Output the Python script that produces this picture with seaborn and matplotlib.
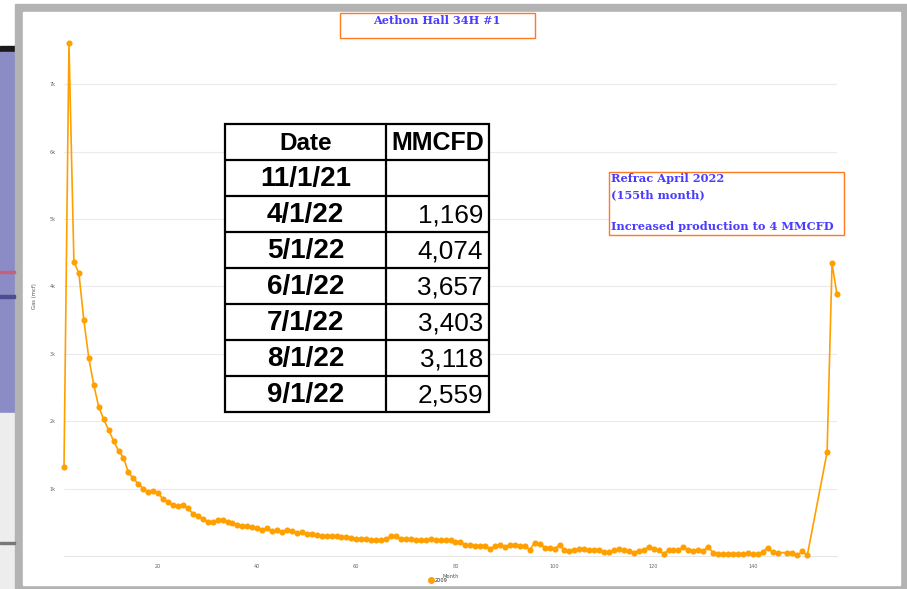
import pandas as pd
import seaborn as sns
import matplotlib.pyplot as plt
from matplotlib.patches import Rectangle
from matplotlib.lines import Line2D

# production history (month number -> gas, mcf)
months = list(range(1, 146)) + list(range(147, 152)) + [155, 156, 157]
gas = [1325, 7610, 4360, 4200, 3500, 2940, 2540, 2215, 2030, 1870,
       1710, 1560, 1460, 1240, 1150, 1070, 1000, 945, 960, 930,
       845, 800, 750, 740, 760, 705, 630, 600, 550, 500,
       500, 540, 540, 510, 490, 460, 450, 440, 430, 420,
       390, 410, 370, 380, 360, 390, 370, 340, 350, 330,
       320, 310, 300, 300, 300, 300, 280, 280, 270, 255,
       250, 250, 240, 235, 235, 250, 300, 290, 255, 250,
       245, 235, 240, 240, 250, 235, 235, 235, 230, 215,
       210, 160, 160, 155, 155, 155, 105, 150, 170, 140,
       165, 160, 150, 150, 95, 195, 175, 125, 125, 110,
       160, 95, 75, 90, 105, 100, 95, 95, 95, 55,
       55, 85, 100, 90, 80, 50, 80, 95, 130, 110,
       85, 30, 90, 90, 90, 130, 95, 80, 85, 80,
       135, 50, 30, 35, 30, 35, 35, 30, 40, 30,
       30, 60, 125, 55, 50,
       50, 40, 10, 70, 10,
       1540, 4340, 3880]
series_name = "2009"

# table overlay
tbl_header = ["Date", "MMCFD"]
tbl_dates = ["11/1/21", "4/1/22", "5/1/22", "6/1/22", "7/1/22", "8/1/22", "9/1/22"]
tbl_mmcfd = ["", "1,169", "4,074", "3,657", "3,403", "3,118", "2,559"]

title = "Aethon Hall 34H #1"
note = "Refrac April 2022\n(155th month)\n\nIncreased production to 4 MMCFD"

df = pd.DataFrame({"Month": months, "Gas (mcf)": gas})

W, H = 907, 589
fig = plt.figure(figsize=(W / 100, H / 100), dpi=100)


def fx(x):
    return x / W


def fy(y):
    return 1 - y / H


def box(x0, y0, x1, y1, **kw):
    r = Rectangle((fx(x0), fy(y1)), fx(x1) - fx(x0), fy(y0) - fy(y1),
                  transform=fig.transFigure, **kw)
    fig.add_artist(r)
    return r


# screenshot background
box(0, 46, 15, 52, color="#1a1a1a", zorder=-5)
box(0, 52, 15, 413, color="#8b8bc6", zorder=-5)
box(0, 271, 15, 273, color="#c8607a", zorder=-4)
box(0, 295, 15, 298, color="#4c4c92", zorder=-4)
box(0, 413, 15, 589, color="#ededed", zorder=-5)
box(0, 542, 15, 544, color="#777777", zorder=-4)
box(15, 4, 907, 589, color="#b3b3b3", zorder=-5)
box(23, 12, 900, 585, color="white", zorder=-4)

sns.set_style("white")
ax = fig.add_axes([fx(64), fy(556), fx(837) - fx(64), fy(37) - fy(556)])
ax.patch.set_alpha(0)
orange = "#ffa000"
sns.lineplot(data=df, x="Month", y="Gas (mcf)", ax=ax, color=orange,
             marker="o", markersize=4.4, markeredgewidth=0, linewidth=1.2,
             label=series_name, clip_on=False, zorder=3)
ax.set_xlim(1, 157)
ax.set_ylim(0, 7700)
ax.set_yticks(range(1000, 8000, 1000))
ax.set_yticklabels([f"{v}k" for v in range(1, 8)])
ax.set_xticks(range(20, 160, 20))
ax.grid(axis="y", color="#ebebeb", linewidth=0.8)
ax.set_axisbelow(True)
for s in ["top", "right", "left"]:
    ax.spines[s].set_visible(False)
ax.spines["bottom"].set_color("#e6e6e6")
ax.tick_params(axis="both", length=0, labelsize=3.6, labelcolor="#666666", pad=6)
ax.set_xlabel("Month", fontsize=3.8, color="#555555", labelpad=3)
ax.set_ylabel("Gas (mcf)", fontsize=3.8, color="#555555", labelpad=9)
handle = Line2D([], [], marker="o", linestyle="", color=orange, markersize=4)
ax.legend(handles=[handle], labels=[series_name], loc="center",
          bbox_to_anchor=(fx(438), fy(580)), bbox_transform=fig.transFigure,
          frameon=False, fontsize=3.6, handletextpad=0.3, handlelength=1)

# title box
edge = "#ff7a20"
blue = "#4a3cff"
box(340, 13, 535, 38, facecolor="white", edgecolor=edge, linewidth=1, zorder=5)
fig.text(fx(437), fy(21), title, ha="center", va="center", family="DejaVu Serif",
         fontweight="bold", fontsize=8.1, color=blue, zorder=6)

# refrac note
box(609, 172, 844, 235, facecolor="white", edgecolor=edge, linewidth=1, zorder=5)
fig.text(fx(611), fy(173), note, ha="left", va="top", family="DejaVu Serif",
         fontweight="bold", fontsize=8.2, color=blue, linespacing=1.55, zorder=6)

# table
tx0, tx1, txm = 225, 489, 386
ty0, row_h = 124, 36
nrows = len(tbl_dates) + 1
box(tx0, ty0, tx1, ty0 + nrows * row_h, facecolor="white", edgecolor="black",
    linewidth=1.6, zorder=5)
fig.add_artist(Line2D([fx(txm), fx(txm)], [fy(ty0), fy(ty0 + nrows * row_h)],
                      transform=fig.transFigure, color="black", lw=1.6, zorder=6))
for i in range(1, nrows):
    yy = ty0 + i * row_h
    fig.add_artist(Line2D([fx(tx0), fx(tx1)], [fy(yy), fy(yy)],
                          transform=fig.transFigure, color="black", lw=1.6, zorder=6))
tfont = "Liberation Sans"
fig.text(fx((tx0 + txm) / 2), fy(ty0 + row_h / 2 + 1), tbl_header[0], ha="center",
         va="center", family=tfont, fontweight="bold", fontsize=17.5, color="black", zorder=7)
fig.text(fx((txm + tx1) / 2), fy(ty0 + row_h / 2 + 1), tbl_header[1], ha="center",
         va="center", family=tfont, fontweight="bold", fontsize=18, color="black", zorder=7)
for i, (d, v) in enumerate(zip(tbl_dates, tbl_mmcfd)):
    yc = ty0 + (i + 1.5) * row_h + 1
    fig.text(fx((tx0 + txm) / 2), fy(yc), d, ha="center", va="center", color="black",
             family=tfont, fontweight="bold", fontsize=20, zorder=7)
    fig.text(fx(tx1 - 6), fy(yc), v, ha="right", va="center", color="black",
             family=tfont, fontsize=18.8, zorder=7)

fig.savefig("out.png", dpi=100)
